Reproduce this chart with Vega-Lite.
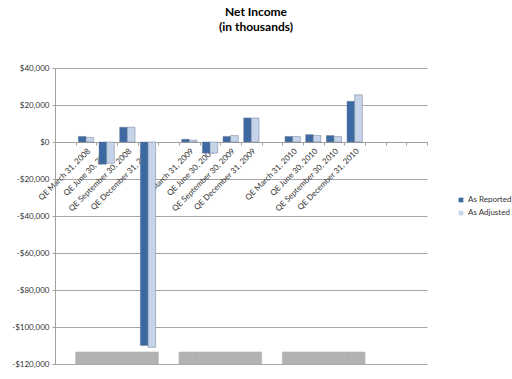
{
  "$schema": "https://vega.github.io/schema/vega-lite/v6.json",
  "width": 372,
  "height": 296,
  "autosize": "none",
  "padding": {"left": 55, "top": 68, "right": 85, "bottom": 15},
  "background": "white",
  "title": {
    "text": ["Net Income", "(in thousands)"],
    "font": "Lato",
    "fontSize": 12,
    "fontWeight": "bold",
    "color": "#000000",
    "anchor": "middle",
    "dx": 15,
    "offset": 30,
    "lineHeight": 15
  },
  "config": {
    "view": {"stroke": null},
    "font": "Lato",
    "axisY": {
      "title": null,
      "values": [-120000, -100000, -80000, -60000, -40000, -20000, 0, 20000, 40000],
      "labelOverlap": false,
      "labelExpr": "datum.value < 0 ? '-$' + format(-datum.value, ',') : '$' + format(datum.value, ',')",
      "labelFontSize": 8,
      "labelColor": "#333333",
      "tickSize": 3,
      "labelPadding": 3,
      "tickColor": "#A0A0A0",
      "domainColor": "#A0A0A0",
      "gridColor": "#A6A6A6",
      "gridWidth": 1
    }
  },
  "datasets": {
    "income": [
      {"quarter": "QE March 31, 2008", "series": "As Reported", "value": 3000},
      {"quarter": "QE March 31, 2008", "series": "As Adjusted", "value": 2500},
      {"quarter": "QE June 30, 2008", "series": "As Reported", "value": -12000},
      {"quarter": "QE June 30, 2008", "series": "As Adjusted", "value": -11500},
      {"quarter": "QE September 30, 2008", "series": "As Reported", "value": 8000},
      {"quarter": "QE September 30, 2008", "series": "As Adjusted", "value": 8000},
      {"quarter": "QE December 31, 2008", "series": "As Reported", "value": -110000},
      {"quarter": "QE December 31, 2008", "series": "As Adjusted", "value": -111000},
      {"quarter": "QE March 31, 2009", "series": "As Reported", "value": 1500},
      {"quarter": "QE March 31, 2009", "series": "As Adjusted", "value": 1000},
      {"quarter": "QE June 30, 2009", "series": "As Reported", "value": -6000},
      {"quarter": "QE June 30, 2009", "series": "As Adjusted", "value": -6000},
      {"quarter": "QE September 30, 2009", "series": "As Reported", "value": 3000},
      {"quarter": "QE September 30, 2009", "series": "As Adjusted", "value": 3500},
      {"quarter": "QE December 31, 2009", "series": "As Reported", "value": 13000},
      {"quarter": "QE December 31, 2009", "series": "As Adjusted", "value": 13000},
      {"quarter": "QE March 31, 2010", "series": "As Reported", "value": 3000},
      {"quarter": "QE March 31, 2010", "series": "As Adjusted", "value": 3000},
      {"quarter": "QE June 30, 2010", "series": "As Reported", "value": 4000},
      {"quarter": "QE June 30, 2010", "series": "As Adjusted", "value": 3500},
      {"quarter": "QE September 30, 2010", "series": "As Reported", "value": 3500},
      {"quarter": "QE September 30, 2010", "series": "As Adjusted", "value": 3000},
      {"quarter": "QE December 31, 2010", "series": "As Reported", "value": 22000},
      {"quarter": "QE December 31, 2010", "series": "As Adjusted", "value": 25500}
    ],
    "floor": [
      {"quarter": "QE March 31, 2008", "low": -120000, "high": -113500},
      {"quarter": "QE June 30, 2008", "low": -120000, "high": -113500},
      {"quarter": "QE September 30, 2008", "low": -120000, "high": -113500},
      {"quarter": "QE December 31, 2008", "low": -120000, "high": -113500},
      {"quarter": "QE March 31, 2009", "low": -120000, "high": -113500},
      {"quarter": "QE June 30, 2009", "low": -120000, "high": -113500},
      {"quarter": "QE September 30, 2009", "low": -120000, "high": -113500},
      {"quarter": "QE December 31, 2009", "low": -120000, "high": -113500},
      {"quarter": "QE March 31, 2010", "low": -120000, "high": -113500},
      {"quarter": "QE June 30, 2010", "low": -120000, "high": -113500},
      {"quarter": "QE September 30, 2010", "low": -120000, "high": -113500},
      {"quarter": "QE December 31, 2010", "low": -120000, "high": -113500}
    ]
  },
  "layer": [
    {
      "data": {"name": "floor"},
      "mark": {"type": "bar", "color": "#B2B2B2", "stroke": "#B2B2B2", "strokeWidth": 0.6},
      "encoding": {
        "x": {
          "field": "quarter",
          "type": "nominal",
          "sort": null,
          "scale": {
            "domain": ["_0", "QE March 31, 2008", "QE June 30, 2008", "QE September 30, 2008", "QE December 31, 2008", "_1", "QE March 31, 2009", "QE June 30, 2009", "QE September 30, 2009", "QE December 31, 2009", "_2", "QE March 31, 2010", "QE June 30, 2010", "QE September 30, 2010", "QE December 31, 2010", "_3", "_4", "_5"],
            "paddingInner": 0,
            "paddingOuter": 0
          },
          "axis": {
            "title": null,
            "offset": -222,
            "labelAngle": -45,
            "labelFontSize": 8,
            "labelColor": "#333333",
            "labelPadding": 2,
            "labelOverlap": false,
            "labelExpr": "indexof(datum.label, 'QE') < 0 ? '' : datum.label",
            "tickBand": "extent",
            "tickSize": 3,
            "tickColor": "#A0A0A0",
            "domainColor": "#A0A0A0",
            "grid": false
          }
        },
        "y": {
          "field": "low",
          "type": "quantitative",
          "scale": {"domain": [-120000, 40000], "nice": false, "zero": false},
          "axis": {"title": null}
        },
        "y2": {"field": "high"}
      }
    },
    {
      "mark": {"type": "rule", "color": "#A6A6A6"},
      "encoding": {"y": {"datum": -113500, "axis": {"title": null}}}
    },
    {
      "data": {"name": "income"},
      "mark": {"type": "bar", "stroke": "#6F7F95", "strokeWidth": 0.5},
      "encoding": {
        "x": {"field": "quarter", "type": "nominal", "sort": null},
        "xOffset": {
          "field": "series",
          "type": "nominal",
          "sort": ["As Reported", "As Adjusted"],
          "scale": {"paddingOuter": 0.35, "paddingInner": 0}
        },
        "y": {"field": "value", "type": "quantitative", "axis": {"title": null}},
        "color": {
          "field": "series",
          "type": "nominal",
          "sort": ["As Reported", "As Adjusted"],
          "scale": {"domain": ["As Reported", "As Adjusted"], "range": ["#3D69A3", "#C6D4EA"]},
          "legend": {
            "title": null,
            "orient": "none",
            "legendX": 402,
            "legendY": 128,
            "symbolType": "square",
            "symbolSize": 22,
            "symbolStrokeWidth": 0,
            "labelFontSize": 8,
            "labelColor": "#333333",
            "rowPadding": 5,
            "labelOffset": 3
          }
        }
      }
    }
  ]
}
